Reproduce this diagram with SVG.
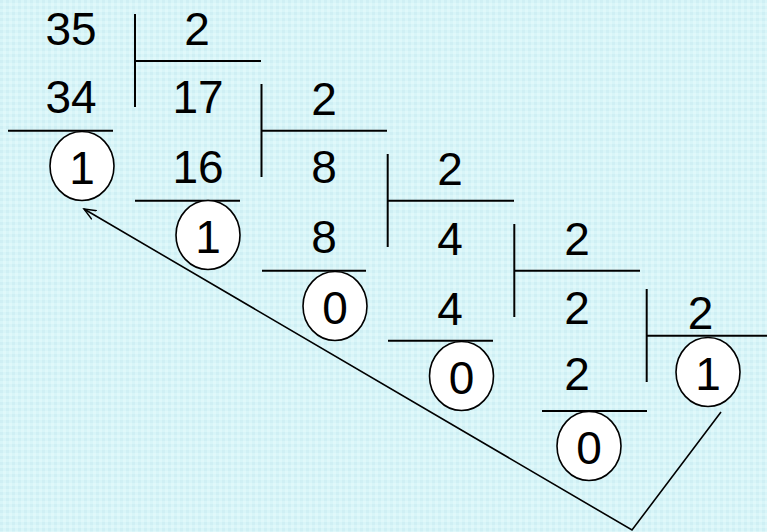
<svg xmlns="http://www.w3.org/2000/svg" width="767" height="532" viewBox="0 0 767 532">
<defs>
<pattern id="bg" width="6" height="6" patternUnits="userSpaceOnUse">
<rect width="6" height="6" fill="#d8f5f8"/>
<rect x="0" y="0" width="3" height="3" fill="#cfeff4"/>
<rect x="3" y="3" width="3" height="3" fill="#e0f8fa"/>
</pattern>
<marker id="arr" markerWidth="14" markerHeight="12" refX="12" refY="6" orient="auto" markerUnits="userSpaceOnUse">
<path d="M0,1 L12,6 L0,11" fill="none" stroke="#000" stroke-width="1.5"/>
</marker>
<style>
.t{font-family:"Liberation Sans",Arial,sans-serif;font-size:46px;fill:#000;text-anchor:middle}
.ln{stroke:#000;stroke-width:2;fill:none}
.c{fill:#fff;stroke:#000;stroke-width:1.6}
</style>
</defs>
<rect width="767" height="532" fill="url(#bg)"/>
<g id="connectors">
<polyline points="721,412 632,530 84,209" fill="none" stroke="#000" stroke-width="1.6" marker-end="url(#arr)"/>
</g>
<g id="step1">
<text class="t" x="71" y="45">35</text>
<text class="t" x="197" y="45">2</text>
<line class="ln" x1="135" y1="14" x2="135" y2="107"/>
<line class="ln" x1="135" y1="61" x2="261" y2="61"/>
<text class="t" x="71" y="113">34</text>
<line class="ln" x1="8" y1="130.7" x2="113" y2="130.7"/>
<ellipse class="c" cx="82" cy="166" rx="32" ry="34.5"/>
<text class="t" x="82" y="184">1</text>
</g>
<g id="step2">
<text class="t" x="198" y="113">17</text>
<text class="t" x="324" y="115">2</text>
<line class="ln" x1="261.5" y1="84" x2="261.5" y2="177"/>
<line class="ln" x1="261.5" y1="130.7" x2="387" y2="130.7"/>
<text class="t" x="198" y="183">16</text>
<line class="ln" x1="135" y1="200.7" x2="240" y2="200.7"/>
<ellipse class="c" cx="208" cy="235" rx="32" ry="34.5"/>
<text class="t" x="208" y="253">1</text>
</g>
<g id="step3">
<text class="t" x="324" y="183">8</text>
<text class="t" x="450" y="185">2</text>
<line class="ln" x1="387.7" y1="154" x2="387.7" y2="247"/>
<line class="ln" x1="387.7" y1="200.7" x2="514" y2="200.7"/>
<text class="t" x="324" y="253">8</text>
<line class="ln" x1="262" y1="270.7" x2="366" y2="270.7"/>
<ellipse class="c" cx="335" cy="306" rx="32" ry="34.5"/>
<text class="t" x="335" y="324">0</text>
</g>
<g id="step4">
<text class="t" x="450" y="255">4</text>
<text class="t" x="577" y="255">2</text>
<line class="ln" x1="514.3" y1="224" x2="514.3" y2="317"/>
<line class="ln" x1="514.3" y1="270.7" x2="640" y2="270.7"/>
<text class="t" x="450" y="325">4</text>
<line class="ln" x1="388" y1="340.7" x2="493" y2="340.7"/>
<ellipse class="c" cx="461.5" cy="376" rx="32" ry="34.5"/>
<text class="t" x="461.5" y="394">0</text>
</g>
<g id="step5">
<text class="t" x="577" y="324">2</text>
<text class="t" x="700.5" y="329">2</text>
<line class="ln" x1="646.7" y1="289" x2="646.7" y2="382"/>
<line class="ln" x1="646.7" y1="335.7" x2="767" y2="335.7"/>
<text class="t" x="577" y="390">2</text>
<line class="ln" x1="542" y1="411" x2="647" y2="411"/>
<ellipse class="c" cx="589" cy="446" rx="32" ry="34.5"/>
<text class="t" x="589" y="464">0</text>
</g>
<g id="step6">
<ellipse class="c" cx="708" cy="372" rx="32" ry="34.5"/>
<text class="t" x="708" y="390">1</text>
</g>
</svg>
